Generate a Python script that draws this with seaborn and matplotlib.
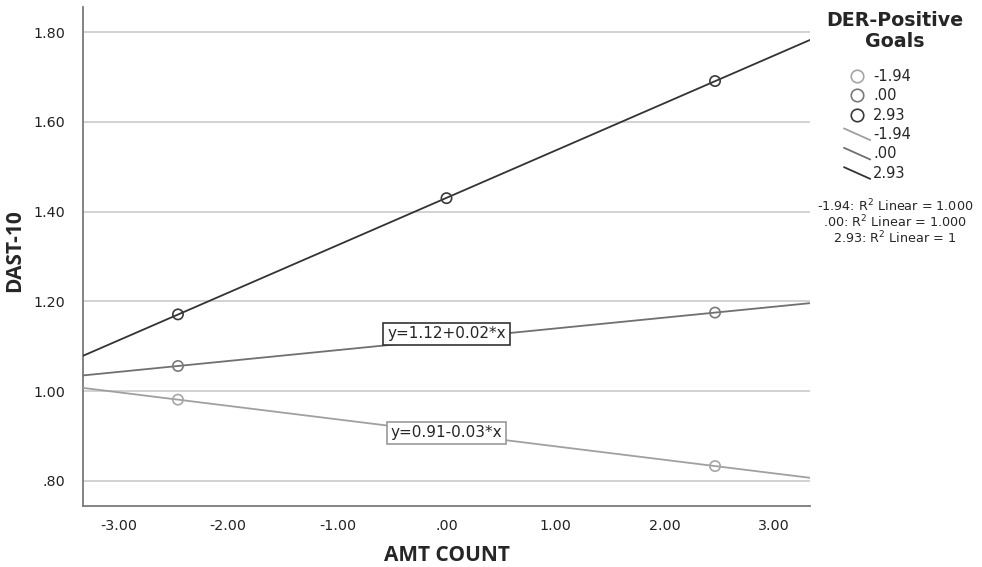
import matplotlib.pyplot as plt
import numpy as np
import seaborn as sns
from matplotlib.legend_handler import HandlerBase
from matplotlib.lines import Line2D
from matplotlib.ticker import FuncFormatter

# DER-Positive Goals levels and their simple-slope points (AMT COUNT vs DAST-10)
levels = ["-1.94", ".00", "2.93"]
low_x = [-2.46, 2.46]
low_y = [0.981, 0.833]
mid_x = [-2.46, 2.46]
mid_y = [1.056, 1.175]
high_x = [-2.46, 0.00, 2.46]
high_y = [1.171, 1.430, 1.691]

r2_labels = ["-1.94: R$^2$ Linear = 1.000",
             ".00: R$^2$ Linear = 1.000",
             "2.93: R$^2$ Linear = 1"]
eq_labels = ["y=0.91-0.03*x", "y=1.12+0.02*x"]

point_colors = ["#a6a6a6", "#7a7a7a", "#3a3a3a"]
line_colors = ["#a0a0a0", "#707070", "#333333"]


def fmt(v, pos):
    s = f"{v:.2f}"
    if s.startswith("0."):
        s = s[1:]
    elif s.startswith("-0."):
        s = "-" + s[2:]
    if s == "-.00":
        s = ".00"
    return s


class SlantHandler(HandlerBase):
    def create_artists(self, legend, orig_handle, xdescent, ydescent,
                       width, height, fontsize, trans):
        ln = Line2D([-xdescent, width - xdescent],
                    [height * 1.05 - ydescent, -height * 0.1 - ydescent],
                    color=orig_handle.get_color(), lw=orig_handle.get_linewidth())
        ln.set_transform(trans)
        return [ln]


sns.set_style("white")
plt.rcParams["font.family"] = ["DejaVu Sans"]
plt.rcParams["axes.unicode_minus"] = False

fig = plt.figure(figsize=(9.82, 5.67), dpi=100)
ax = fig.add_axes([83 / 982, 61 / 567, 727 / 982, 499 / 567])
ax.set_xlim(-3.33, 3.33)
ax.set_ylim(0.744, 1.856)

series = [(low_x, low_y), (mid_x, mid_y), (high_x, high_y)]
for (xs, ys), pc, lc in zip(series, point_colors, line_colors):
    sns.regplot(x=np.array(xs), y=np.array(ys), ax=ax, ci=None, truncate=False,
                scatter_kws=dict(s=55, facecolors="none", edgecolors=pc,
                                 linewidths=1.2, alpha=1, zorder=4),
                line_kws=dict(color=lc, lw=1.3, zorder=3))

# equation labels on the lower two lines
for (xs, ys), lab, ec, dy in zip(series[:2], eq_labels, ["#9a9a9a", "#333333"], [0.0, 0.012]):
    b, a = np.polyfit(xs, ys, 1)
    ax.text(0, a + dy, lab, ha="center", va="center", fontsize=11, zorder=6,
            bbox=dict(boxstyle="square,pad=0.25", fc="white", ec=ec, lw=1.2))

ax.set_yticks([0.8, 1.0, 1.2, 1.4, 1.6, 1.8])
ax.set_xticks([-3, -2, -1, 0, 1, 2, 3])
ax.xaxis.set_major_formatter(FuncFormatter(fmt))
ax.yaxis.set_major_formatter(FuncFormatter(fmt))
ax.yaxis.grid(True, color="#d2d2d2", lw=1.4)
ax.xaxis.grid(False)
ax.tick_params(axis="both", length=0, labelsize=10.3, colors="#222222")
ax.tick_params(axis="y", pad=13)
ax.tick_params(axis="x", pad=9)
for side in ["top", "right"]:
    ax.spines[side].set_visible(False)
for side in ["left", "bottom"]:
    ax.spines[side].set_color("#7a7a7a")
    ax.spines[side].set_linewidth(1.3)

ax.set_xlabel("AMT COUNT", fontsize=15, fontweight="bold", family="Open Sans")
ax.set_ylabel("DAST-10", fontsize=15, fontweight="bold", family="Open Sans")
ax.xaxis.set_label_coords((447 - 83) / 727, (506 - 545) / 499)
ax.yaxis.set_label_coords((25 - 83) / 727, (506 - 251) / 499)

# legend
fig.text(895 / 982, 1 - 31 / 567, "DER-Positive\nGoals", ha="center", va="center",
         fontsize=13.7, fontweight="bold", linespacing=1.1)
handles = [Line2D([], [], marker="o", ls="none", mfc="none", mec=c, ms=9, mew=1.2)
           for c in point_colors]
handles += [Line2D([], [], color=c, lw=1.3) for c in line_colors]
fig.legend(handles, levels + levels, loc="upper left",
           bbox_to_anchor=(844 / 982, 1 - 69 / 567), frameon=False, fontsize=10.5,
           handlelength=1.8, handletextpad=0.2, labelspacing=0.3,
           borderpad=0, borderaxespad=0,
           handler_map={h: SlantHandler() for h in handles[3:]})
for i, t in enumerate(r2_labels):
    fig.text(895 / 982, 1 - (206 + 16 * i) / 567, t, ha="center", va="center",
             fontsize=9.2)

fig.savefig("out.png", dpi=100)
